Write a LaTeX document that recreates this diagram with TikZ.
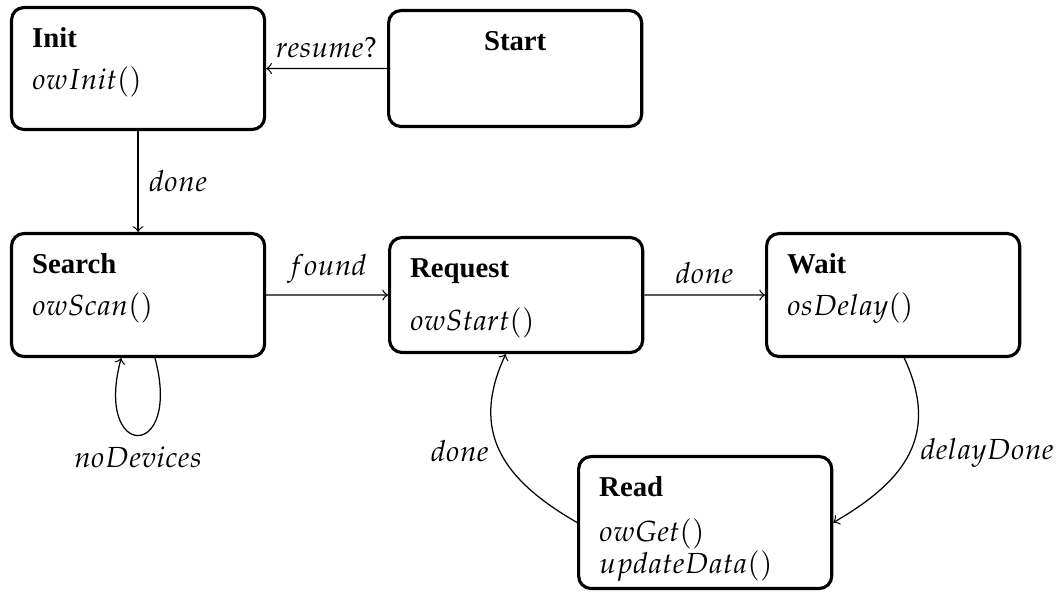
\documentclass[tikz,border=0pt]{standalone}
\usepackage{mathpazo}
\usepackage[no-math]{fontspec}
\setmainfont{Liberation Serif}
\newcommand{\stname}[1]{{\fontsize{9.2}{13.4}\selectfont\bfseries #1}}
\begin{document}
\begin{tikzpicture}[font=\fontsize{9.3}{13.4}\selectfont,
    statebox/.style={draw, line width=1pt, rounded corners=4pt, anchor=north west,
        inner xsep=6.6pt, inner ysep=0pt, text width=67.8pt, align=left,
        text height=12.8pt, text depth=#1}]
\useasboundingbox (0,0) rectangle (11.888,-6.669);
\node[statebox=26.24pt] (init) at (0.112,-0.067) {\stname{Init}\\$owInit()$};
\node[statebox=24.32pt, align=center] (start) at (4.353,-0.101) {\stname{Start}};
\node[statebox=26.56pt] (search) at (0.112,-2.609) {\stname{Search}\\$owScan()$};
\node[statebox=24pt] (request) at (4.364,-2.654) {\stname{Request}\\[3.5pt]$owStart()$};
\node[statebox=26.56pt] (wait) at (8.604,-2.609) {\stname{Wait}\\$osDelay()$};
\node[statebox=29.44pt] (read) at (6.490,-5.117) {\stname{Read}\\[1.1pt]$owGet()$\\[-3.4pt]$updateData()$};

\draw[->] (start) -- node[above]{$resume?$} (init);
\draw[->] (init) -- node[right]{$done$} (search);
\draw[->] (search) -- node[above]{$found$} (request);
\draw[->] (request) -- node[above]{$done$} (wait);
\draw[->] (search.-75) to[out=-75,in=-105,distance=1.2cm] node[below]{$noDevices$} (search.-105);
\draw[->] (wait.-80) to[out=-65,in=30,looseness=1.2] node[right]{$delayDone$} (read.east);
\draw[->] (read.west) to[out=150,in=-115,looseness=1.2] node[left]{$done$} (request.-100);
\end{tikzpicture}
\end{document}
